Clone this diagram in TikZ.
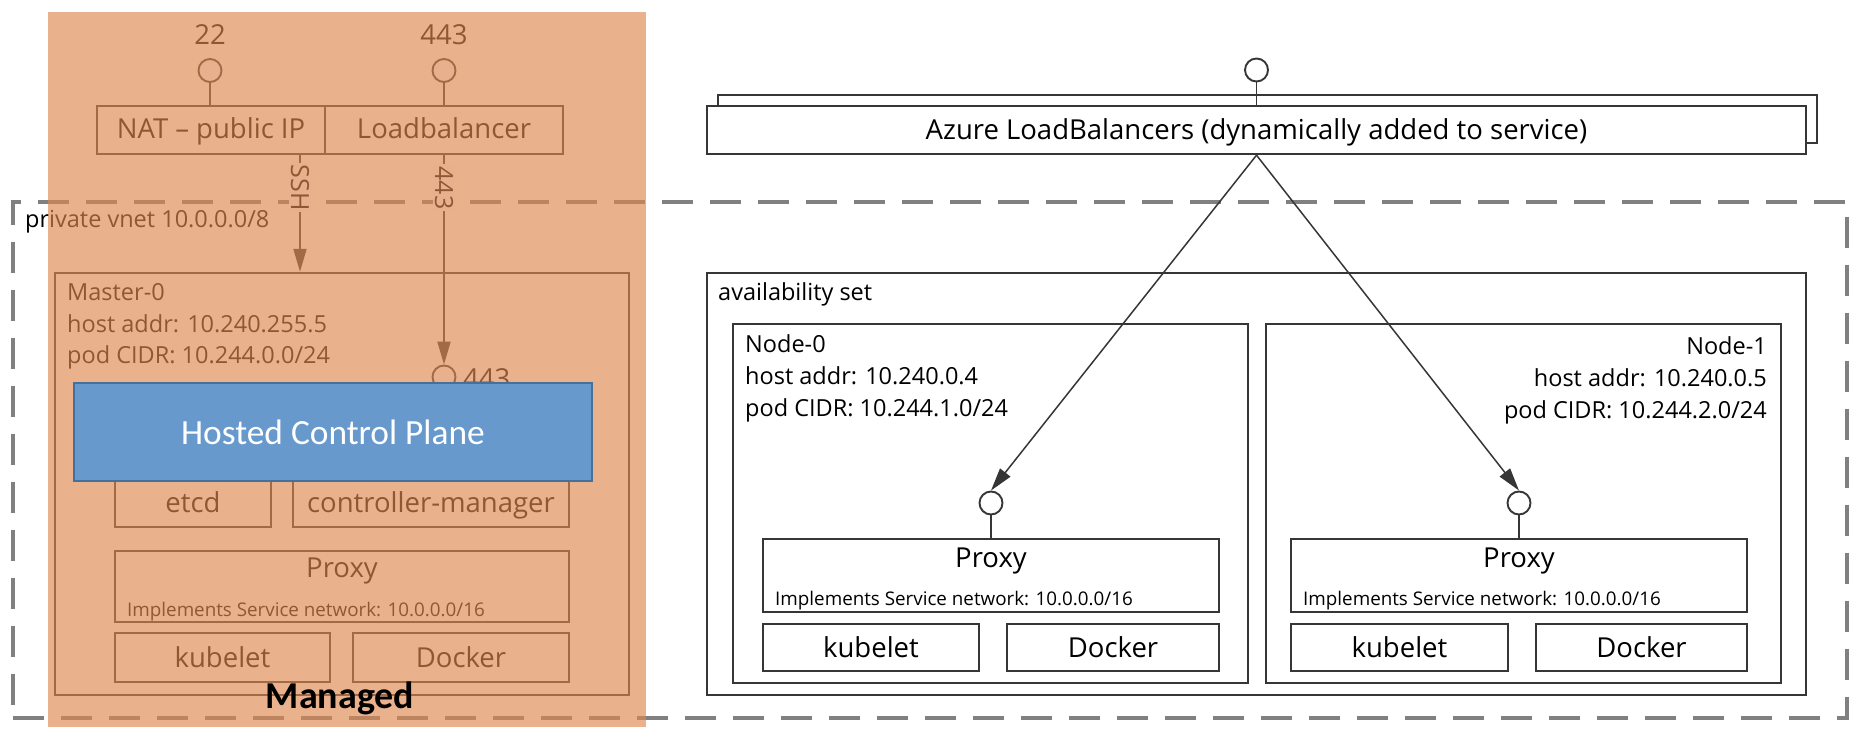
\documentclass[tikz,border=0pt]{standalone}
\usepackage{fontspec}
\setmainfont{Open Sans}
\newfontfamily\calibri{Carlito}
\usetikzlibrary{arrows.meta,fit}
\newcommand\fsz[1]{\fontsize{#1}{#1}\selectfont}
\definecolor{linec}{HTML}{363636}
\definecolor{dashc}{HTML}{808080}
\definecolor{orangeov}{RGB}{222,135,80}
\definecolor{cpfill}{RGB}{103,153,204}
\definecolor{cpdraw}{RGB}{65,113,156}
\tikzset{
  box/.style={draw=linec, line width=2.4pt, inner sep=0pt},
  wbox/.style={box, fill=white},
  port/.style={circle, draw=linec, line width=1.9pt, fill=white, minimum size=23pt, inner sep=0pt},
  big/.style={font=\fsz{27.5}, inner sep=0pt},
  info/.style={font=\fsz{23.5}, inner sep=0pt},
  small/.style={font=\fsz{18.8}, inner sep=0pt},
  conn/.style={draw=linec, line width=1.9pt},
  arr/.style={conn, -{Triangle[length=23pt,width=13pt]}},
  lab/.style={font=\fsz{25}, fill=white, inner sep=2pt, rotate=-90},
}
\begin{document}
\begin{tikzpicture}[x=1pt, y=-1pt]
\useasboundingbox (0,0) rectangle (1860,738);
% private vnet
\node[fit={(13,202) (1847,718)}, draw=dashc, line width=3.5pt, dash pattern=on 31pt off 17pt, inner sep=0pt] (vnet) {};
\node[info, anchor=base west] (vnetlab) at (25,228) {private vnet 10.0.0.0/8};

% ---- left: master ----
\node[big, anchor=base] (t22) at (210,45) {22};
\node[big, anchor=base] (t443) at (444,45) {443};
\node[port] (c22) at (210,70.5) {};
\node[port] (c443) at (444,70.5) {};
\node[box, fit={(97,106) (325,154)}] (nat) {};
\node[box, fit={(325,106) (563,154)}] (lb) {};
\node[big, anchor=base] (natlab) at (211,139) {NAT – public IP};
\node[big, anchor=base] (lblab) at (444,139) {Loadbalancer};
\draw[conn] (c22.south) -- (c22.south |- nat.north);
\draw[conn] (c443.south) -- (c443.south |- lb.north);

\node[box, fit={(55,273) (629,695)}] (master) {};
\node[info, anchor=base west] (m0) at (67,300) {Master-0};
\node[info, anchor=base west] (m1) at (67,332) {host addr: 10.240.255.5};
\node[info, anchor=base west] (m2) at (67,363) {pod CIDR: 10.244.0.0/24};
\node[port] (c443b) at (444,377) {};
\node[big, anchor=base west] (t443b) at (463,388) {443};

\node[box, fit={(115,470) (271,527)}] (etcd) {};
\node[box, fit={(293,470) (569,527)}] (cm) {};
\node[big, anchor=base] (etcdlab) at (193,512) {etcd};
\node[big, anchor=base] (cmlab) at (431,512) {controller-manager};
\node[box, fit={(115,551) (569,622)}] (mproxy) {};
\node[big, anchor=base] (mproxylab) at (342,577) {Proxy};
\node[small, anchor=base west] (mimpl) at (127,616) {Implements Service network: 10.0.0.0/16};
\node[box, fit={(115,633) (330,682)}] (mkub) {};
\node[box, fit={(353,633) (569,682)}] (mdock) {};
\node[big, anchor=base] (mkublab) at (222.5,667) {kubelet};
\node[big, anchor=base] (mdocklab) at (461,667) {Docker};

\coordinate (sshx) at (300,0);
\draw[arr] (sshx |- nat.south) -- node[lab, pos=0.277] (sshlab) {SSH} (sshx |- master.north);
\draw[arr] (lb.south) -- node[lab, pos=0.156] (lb443) {443} (c443b.north);

% ---- right: Azure ----
\node[wbox, fit={(718,95) (1817,143)}] (azback) {};
\node[wbox, fit={(707,106) (1806,154)}] (az) {};
\node[big, anchor=base] (azlab) at (1256.5,140) {Azure LoadBalancers (dynamically added to service)};
\node[port] (caz) at (1256.5,70) {};
\draw[conn] (caz.south) -- (az.north);

\node[box, fit={(707,273) (1806,695)}] (avail) {};
\node[info, anchor=base west] (availlab) at (718,300) {availability set};

% Node-0
\node[box, fit={(733,324) (1248,683)}] (n0) {};
\node[info, anchor=base west] (n0a) at (745,352) {Node-0};
\node[info, anchor=base west] (n0b) at (745,384) {host addr: 10.240.0.4};
\node[info, anchor=base west] (n0c) at (745,416) {pod CIDR: 10.244.1.0/24};
\node[port] (p0) at (991,503) {};
\node[box, fit={(763,539) (1219,612)}] (n0proxy) {};
\node[big, anchor=base] (n0proxylab) at (991,567) {Proxy};
\node[small, anchor=base west] (n0impl) at (775,605) {Implements Service network: 10.0.0.0/16};
\node[box, fit={(763,624) (979,671)}] (n0kub) {};
\node[box, fit={(1007,624) (1219,671)}] (n0dock) {};
\node[big, anchor=base] (n0kublab) at (871,657) {kubelet};
\node[big, anchor=base] (n0docklab) at (1113,657) {Docker};
\draw[conn] (p0.south) -- (n0proxy.north);

% Node-1
\node[box, fit={(1266,324) (1781,683)}] (n1) {};
\node[info, anchor=base east] (n1a) at (1767,354) {Node-1};
\node[info, anchor=base east] (n1b) at (1767,386) {host addr: 10.240.0.5};
\node[info, anchor=base east] (n1c) at (1767,418) {pod CIDR: 10.244.2.0/24};
\node[port] (p1) at (1519,503) {};
\node[box, fit={(1291,539) (1747,612)}] (n1proxy) {};
\node[big, anchor=base] (n1proxylab) at (1519,567) {Proxy};
\node[small, anchor=base west] (n1impl) at (1303,605) {Implements Service network: 10.0.0.0/16};
\node[box, fit={(1291,624) (1508,671)}] (n1kub) {};
\node[box, fit={(1536,624) (1747,671)}] (n1dock) {};
\node[big, anchor=base] (n1kublab) at (1399.5,657) {kubelet};
\node[big, anchor=base] (n1docklab) at (1641.5,657) {Docker};
\draw[conn] (p1.south) -- (n1proxy.north);

\draw[arr, line width=1.5pt] (az.south) -- (p0.north);
\draw[arr, line width=1.5pt] (az.south) -- (p1.north);

% ---- managed overlay ----
\fill[orangeov, fill opacity=0.65] (48,12) rectangle (646,727);
\node[fit={(74,383) (592,481)}, fill=cpfill, draw=cpdraw, line width=2pt, inner sep=0pt] (hcp) {};
\node[font=\calibri\fsz{35.4}, text=white, anchor=base, inner sep=0pt] (hcplab) at (333,444) {Hosted Control Plane};
\node[font=\calibri\bfseries\fsz{38}, anchor=base, inner sep=0pt] (managed) at (340,708) {Managed};
\end{tikzpicture}
\end{document}
